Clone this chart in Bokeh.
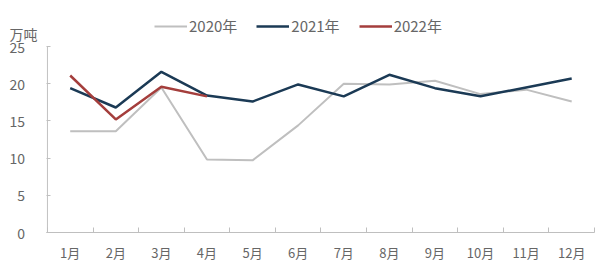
from bokeh.plotting import figure
from bokeh.models import Range1d, FixedTicker, Legend, LegendItem
from bokeh.embed import file_html
from bokeh.resources import INLINE

months = ["1月", "2月", "3月", "4月", "5月", "6月", "7月", "8月", "9月", "10月", "11月", "12月"]
y2020 = [13.6, 13.6, 19.5, 9.8, 9.7, 14.4, 20.0, 19.9, 20.4, 18.6, 19.2, 17.6]
y2021 = [19.4, 16.8, 21.6, 18.4, 17.6, 19.9, 18.3, 21.2, 19.4, 18.3, 19.5, 20.7]
y2022 = [21.1, 15.2, 19.6, 18.3]
series_names = ["2020年", "2021年", "2022年"]
y_ticks = [0, 5, 10, 15, 20, 25]
unit_label = "万吨"
colors = ["#BFBFBF", "#1B3A55", "#A43E3C"]

FONT = "Noto Sans CJK SC"
TXT = "#666666"
AX = "#BFBFBF"

y_max = y_ticks[-1]
y_top = y_max + 42 / 7.44      # room above the axis for legend and unit
unit_pos = y_max + 13 / 7.44

p = figure(width=600, height=277, output_backend="svg", toolbar_location=None,
           x_range=Range1d(-0.02, len(months)), y_range=Range1d(0, y_top),
           min_border_left=46, min_border_right=6, min_border_top=4, min_border_bottom=45)
p.outline_line_color = None
p.xgrid.visible = False
p.ygrid.visible = False

def xs(n):
    return [i + 0.5 for i in range(n)]

# y axis line (only up to the top tick)
p.segment(x0=[0], y0=[y_ticks[0]], x1=[0], y1=[y_max], line_color=AX, line_width=1)

r0 = p.line(xs(len(y2020)), y2020, line_color=colors[0], line_width=2)
r1 = p.line(xs(len(y2021)), y2021, line_color=colors[1], line_width=2.5)
r2 = p.line(xs(len(y2022)), y2022, line_color=colors[2], line_width=2.5)

xa = p.xaxis[0]
xa.ticker = FixedTicker(ticks=[i + 0.5 for i in range(len(months))],
                        minor_ticks=list(range(len(months) + 1)))
xa.major_label_overrides = {i + 0.5: m for i, m in enumerate(months)}
xa.major_tick_in = 0
xa.major_tick_out = 0
xa.minor_tick_in = 5
xa.minor_tick_out = 0
xa.minor_tick_line_color = AX
xa.axis_line_color = AX
xa.major_label_text_font = FONT
xa.major_label_text_font_size = "13px"
xa.major_label_text_color = TXT
xa.major_label_standoff = 10

pad = "\u00a0" * 4
ya = p.yaxis[0]
ya.ticker = FixedTicker(ticks=y_ticks + [unit_pos], minor_ticks=y_ticks)
ya.major_label_overrides = {**{t: f"{t}{pad}" for t in y_ticks}, unit_pos: unit_label}
ya.major_tick_in = 0
ya.major_tick_out = 0
ya.minor_tick_in = 4
ya.minor_tick_out = 0
ya.minor_tick_line_color = AX
ya.axis_line_color = None
ya.major_label_text_font = FONT
ya.major_label_text_font_size = "14px"
ya.major_label_text_color = TXT
ya.major_label_standoff = 9

legend = Legend(items=[LegendItem(label=series_names[0], renderers=[r0]),
                       LegendItem(label=series_names[1], renderers=[r1]),
                       LegendItem(label=series_names[2], renderers=[r2])],
                orientation="horizontal", location=(108, 196),
                label_text_font=FONT, label_text_font_size="15px", label_text_color=TXT,
                glyph_width=33, glyph_height=12, spacing=19, label_standoff=2,
                border_line_color=None, background_fill_alpha=0, margin=0, padding=3)
p.add_layout(legend)

open("out.html", "w").write(file_html(p, INLINE))
